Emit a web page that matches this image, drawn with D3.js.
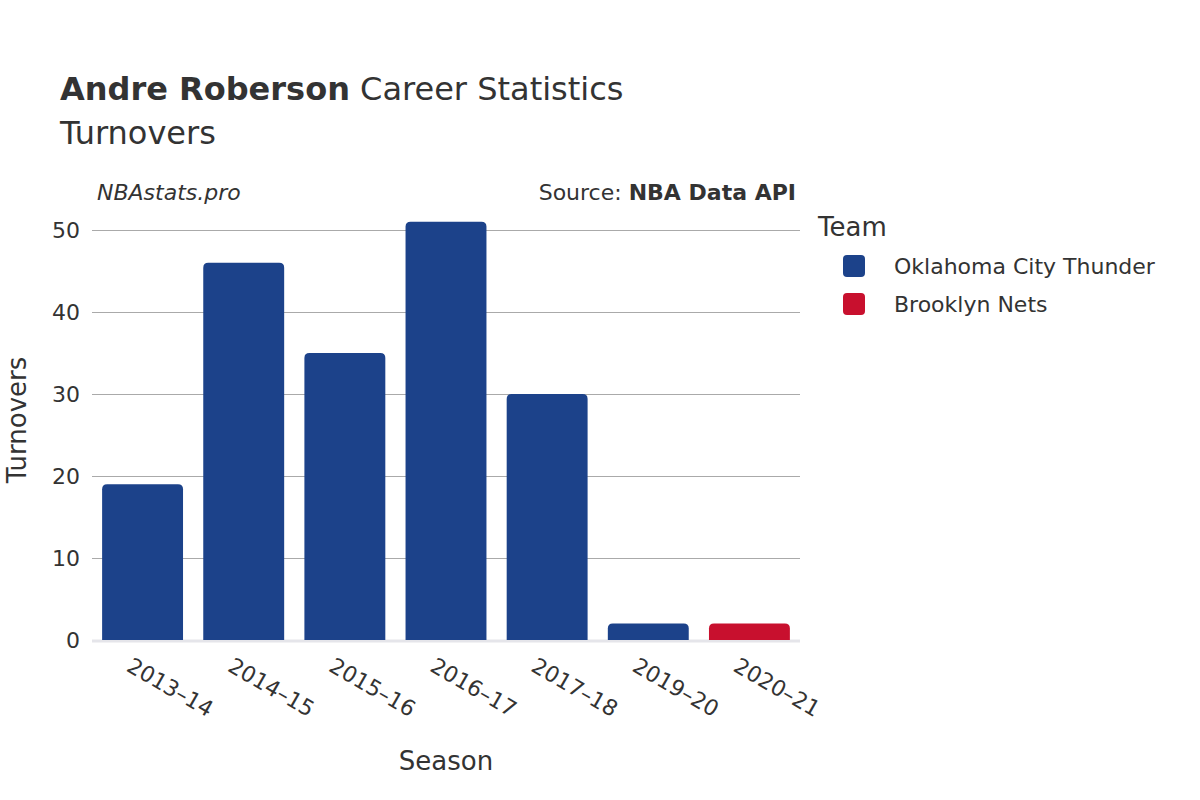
<!DOCTYPE html><html><head><meta charset="utf-8"><script src="https://cdn.jsdelivr.net/npm/d3@7"></script>
<style>body{margin:0;background:#fff}text{font-family:"DejaVu Sans",sans-serif;fill:#333}</style></head><body><svg id="c" width="1200" height="800"></svg><script>
const seasons=["2013–14","2014–15","2015–16","2016–17","2017–18","2019–20","2020–21"];
const teams=["Oklahoma City Thunder","Oklahoma City Thunder","Oklahoma City Thunder","Oklahoma City Thunder","Oklahoma City Thunder","Oklahoma City Thunder","Brooklyn Nets"];
const values=[19,46,35,51,30,2,2];
const legendTeams=["Oklahoma City Thunder","Brooklyn Nets"];
const colors=["#1c428a","#c8102e"];
const yTicks=[0,10,20,30,40,50];
const svg=d3.select("#c");
const x=d3.scaleBand().domain(seasons).range([92,800]).paddingInner(0.2).paddingOuter(0.1);
const y=d3.scaleLinear().domain([0,50]).range([640,230]);
const col=d3.scaleOrdinal().domain(legendTeams).range(colors);
const ya=svg.append("g").attr("transform","translate(92,0)").call(d3.axisLeft(y).tickValues(yTicks).tickSize(-708).tickPadding(12));
ya.select(".domain").remove();
ya.selectAll("line").attr("stroke","#aaa").attr("stroke-width",1.2);
ya.selectAll("text").style("font-size","22px").attr("fill","#333");
svg.append("line").attr("x1",92).attr("x2",800).attr("y1",y(0)+1).attr("y2",y(0)+1).attr("stroke","#e5e5ea").attr("stroke-width",3);
svg.selectAll(".b").data(values).enter().append("path").attr("fill",(d,i)=>col(teams[i])).attr("d",(d,i)=>{
 const x0=x(seasons[i]),w=x.bandwidth(),y0=y(d),h=y(0)-y0,r=Math.min(5,h);
 return `M${x0},${y(0)}V${y0+r}Q${x0},${y0} ${x0+r},${y0}H${x0+w-r}Q${x0+w},${y0} ${x0+w},${y0+r}V${y(0)}Z`;});
const xa=svg.append("g").attr("transform","translate(0,640)").call(d3.axisBottom(x).tickSize(0));
xa.select(".domain").remove();
xa.selectAll("text").style("font-size","22px").attr("text-anchor","start").attr("transform","translate(-8,14) rotate(30)");
svg.append("text").attr("x",60).attr("y",100).style("font-size","32px").html('<tspan font-weight="bold">Andre Roberson</tspan> Career Statistics');
svg.append("text").attr("x",60).attr("y",144).style("font-size","32px").text("Turnovers");
svg.append("text").attr("x",97).attr("y",200).style("font-size","22px").style("font-style","italic").text("NBAstats.pro");
svg.append("text").attr("x",796).attr("y",200).attr("text-anchor","end").style("font-size","22px").html('Source: <tspan font-weight="bold">NBA Data API</tspan>');
svg.append("text").attr("x",446).attr("y",770).attr("text-anchor","middle").style("font-size","26px").text("Season");
svg.append("text").attr("transform","translate(26,420) rotate(-90)").attr("text-anchor","middle").style("font-size","26px").text("Turnovers");
svg.append("text").attr("x",818).attr("y",236).style("font-size","26px").text("Team");
legendTeams.forEach((t,i)=>{const yy=266+i*38;
 svg.append("rect").attr("x",843).attr("y",yy-11).attr("width",22).attr("height",22).attr("rx",4).attr("fill",colors[i]);
 svg.append("text").attr("x",894).attr("y",yy+8).style("font-size","22px").text(t);});
</script></body></html>
